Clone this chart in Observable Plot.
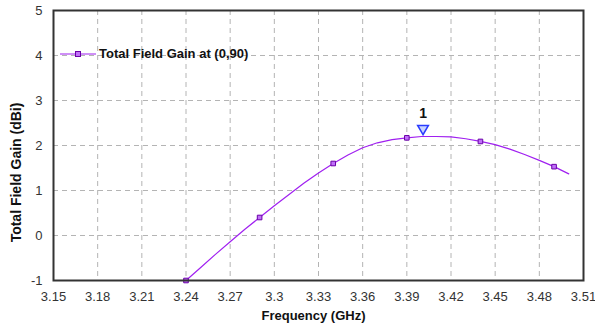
<!DOCTYPE html>
<html>
<head>
<meta charset="utf-8">
<script src="https://cdn.jsdelivr.net/npm/d3@7"></script>
<script src="https://cdn.jsdelivr.net/npm/@observablehq/plot@0.6"></script>
<style>
  html, body { margin: 0; padding: 0; background: white; }
  #chart { position: relative; width: 595px; height: 323px; font-family: "Liberation Sans", Arial, sans-serif; }
  #chart svg { overflow: visible; }
  #legend { position: absolute; left: 60px; top: 46px; display: flex; align-items: center; font-weight: bold; font-size: 13px; color: #111; }
  #legend svg { display: block; margin-right: 3px; }
</style>
</head>
<body>
<div id="chart"></div>
<script>
// ---- data ----
const xTicks = [3.15, 3.18, 3.21, 3.24, 3.27, 3.30, 3.33, 3.36, 3.39, 3.42, 3.45, 3.48, 3.51];
const yTicks = [-1, 0, 1, 2, 3, 4, 5];

const freq = [3.24, 3.25, 3.26, 3.27, 3.28, 3.29, 3.30, 3.31, 3.32, 3.33, 3.34, 3.35, 3.36,
              3.37, 3.38, 3.39, 3.40, 3.41, 3.42, 3.43, 3.44, 3.45, 3.46, 3.47, 3.48, 3.49, 3.50];
const gain = [-1.00, -0.71, -0.42, -0.14, 0.14, 0.40, 0.66, 0.91, 1.16, 1.39, 1.60, 1.79, 1.95,
              2.06, 2.13, 2.17, 2.20, 2.20, 2.19, 2.15, 2.09, 2.02, 1.92, 1.80, 1.67, 1.53, 1.37];

const markerFreq = [3.24, 3.29, 3.34, 3.39, 3.44, 3.49];
const markerGain = [-1.00, 0.40, 1.60, 2.17, 2.09, 1.53];

const peakFreq = [3.401];
const peakGain = [2.20];
const peakLabel = ["1"];

const seriesName = "Total Field Gain at (0,90)";
const xTitle = "Frequency (GHz)";
const yTitle = "Total Field Gain (dBi)";

// ---- tables for Plot ----
const series = freq.map((f, i) => ({f, g: gain[i]}));
const markers = markerFreq.map((f, i) => ({f, g: markerGain[i]}));
const peak = peakFreq.map((f, i) => ({f, g: peakGain[i], label: peakLabel[i]}));

const lineColor = "#a020f0";

const chart = Plot.plot({
  width: 595,
  height: 323,
  marginLeft: 53,
  marginRight: 12,
  marginTop: 10,
  marginBottom: 43,
  x: {domain: [3.15, 3.51]},
  y: {domain: [-1, 5]},
  style: {fontFamily: "'Liberation Sans', Arial, sans-serif", fontSize: "13px", background: "white", color: "#333", overflow: "visible"},
  marks: [
    Plot.gridX(xTicks.slice(1, -1), {stroke: "#b4b4b4", strokeOpacity: 1, strokeDasharray: "5,4"}),
    Plot.gridY(yTicks.slice(1, -1), {stroke: "#b4b4b4", strokeOpacity: 1, strokeDasharray: "5,4"}),
    Plot.axisX(xTicks, {tickSize: 0, tickPadding: 11, tickFormat: d => String(+d.toFixed(2)), label: null, fill: "#333"}),
    Plot.axisY(yTicks, {tickSize: 0, tickPadding: 11, tickFormat: d => String(d), label: null, fill: "#333"}),
    Plot.line(series, {x: "f", y: "g", stroke: lineColor, strokeWidth: 1.2}),
    Plot.dot(markers, {x: "f", y: "g", symbol: "square", r: 2.6, stroke: "#6a00a8", fill: "#c070f8", strokeWidth: 1}),
    Plot.dot(peak, {x: "f", y: "g", symbol: "triangle", rotate: 180, r: 4, dy: -8, fill: "#c8d4ff", stroke: "#2a3cff", strokeWidth: 1.5}),
    Plot.text(peak, {x: "f", y: "g", text: "label", dy: -23, fontSize: 14, fontWeight: "bold", fill: "#111"}),
    Plot.frame({stroke: "#333", strokeWidth: 2}),
    Plot.text([xTitle], {frameAnchor: "bottom", lineAnchor: "middle", textAnchor: "middle", dy: 35, dx: -5, fontWeight: "bold", fontSize: 13, fill: "#111"}),
    Plot.text([yTitle], {frameAnchor: "left", lineAnchor: "middle", textAnchor: "middle", rotate: -90, dx: -37, dy: 27, fontWeight: "bold", fontSize: 14, fill: "#111"})
  ]
});

const container = document.getElementById("chart");
container.appendChild(chart);

// legend placed inside the plot area (top-left), as in the reference
const legend = document.createElement("div");
legend.id = "legend";
legend.innerHTML = `<svg width="36" height="12"><line x1="0" y1="6" x2="36" y2="6" stroke="${lineColor}" stroke-width="1.2"/><rect x="15.5" y="3.5" width="5" height="5" fill="#c070f8" stroke="#6a00a8" stroke-width="1"/></svg><span></span>`;
legend.querySelector("span").textContent = seriesName;
container.appendChild(legend);
</script>
</body>
</html>
